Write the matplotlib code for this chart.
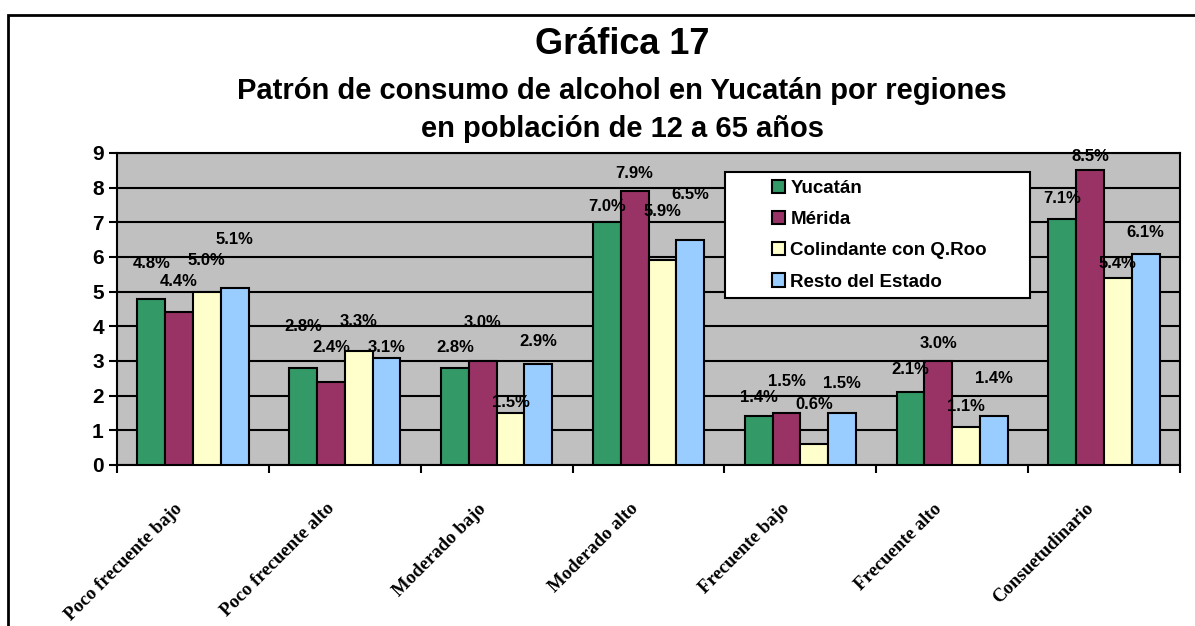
import numpy as np
import matplotlib
matplotlib.use("Agg")
import matplotlib.pyplot as plt
import matplotlib.transforms as mtransforms
from matplotlib.patches import Rectangle

# Patron de consumo de alcohol por regiones (porcentaje)
categories = ["Poco frecuente bajo", "Poco frecuente alto", "Moderado bajo",
              "Moderado alto", "Frecuente bajo", "Frecuente alto", "Consuetudinario"]
series_names = ["Yucatán", "Mérida", "Colindante con Q.Roo", "Resto del Estado"]
yucatan = [4.8, 2.8, 2.8, 7.0, 1.4, 2.1, 7.1]
merida = [4.4, 2.4, 3.0, 7.9, 1.5, 3.0, 8.5]
colindante = [5.0, 3.3, 1.5, 5.9, 0.6, 1.1, 5.4]
resto = [5.1, 3.1, 2.9, 6.5, 1.5, 1.4, 6.1]

# how far above each bar top the label sits (data units), as placed in the original
label_dy = [
    [1.0, 1.2, 0.6, 0.45, 0.55, 0.65, 0.6],
    [0.9, 1.0, 1.1, 0.5, 0.9, 0.5, 0.4],
    [0.9, 0.85, 0.3, 1.4, 1.15, 0.6, 0.4],
    [1.4, 0.3, 0.65, 1.3, 0.85, 1.1, 0.6],
]

colors = ["#339966", "#993366", "#FFFFCC", "#99CCFF"]

plt.rcParams['font.family'] = ['Liberation Sans', 'DejaVu Sans']
plt.rcParams['font.weight'] = 'bold'

W, H = 1195, 626
fig = plt.figure(figsize=(W / 100, H / 100), dpi=100)
ax = fig.add_axes([117 / W, 1 - 465 / H, (1180 - 117) / W, (465 - 153) / H])

# outer chart frame (runs off the right and bottom of the picture)
fig.patches.append(Rectangle((8 / W, -0.2), 1.2, 1 - 15 / H + 0.2, transform=fig.transFigure,
                             facecolor="none", edgecolor="black", linewidth=2))

x = np.arange(len(categories))
bw = 0.183
all_series = [yucatan, merida, colindante, resto]
for i, (vals, name, col) in enumerate(zip(all_series, series_names, colors)):
    pos = x + (i - 1.5) * bw
    ax.bar(pos, vals, bw, color=col, edgecolor="black", linewidth=1.5, label=name, zorder=3)
    for j, v in enumerate(vals):
        ax.text(pos[j], v + label_dy[i][j], f"{v:.1f}%", ha="center", va="center",
                fontsize=12, fontweight="bold", zorder=6)

ax.set_facecolor("#C0C0C0")
ax.set_xlim(-0.5, len(categories) - 0.5)
ax.set_ylim(0, 9)
ax.set_yticks(range(0, 10))
ax.yaxis.grid(True, color="black", linewidth=1.5, zorder=1)
ax.set_axisbelow(True)
ax.tick_params(axis="y", labelsize=15, width=1.5, length=6)
for lab in ax.get_yticklabels():
    lab.set_fontweight("bold")

# tick marks between categories, labels at centres
ax.set_xticks(np.arange(-0.5, len(categories)), labels=[])
ax.tick_params(axis="x", which="major", width=1.5, length=6)
ax.set_xticks(x, minor=True)
ax.set_xticklabels(categories, minor=True, rotation=45, ha="right", va="bottom",
                   rotation_mode="anchor", family="Liberation Serif",
                   fontsize=13.5, fontweight="bold")
ax.tick_params(axis="x", which="minor", length=0, pad=34)
shift = mtransforms.ScaledTranslation(-7 / 100, 0, fig.dpi_scale_trans)
for lab in ax.get_xticklabels(minor=True):
    lab.set_transform(lab.get_transform() + shift)

for s in ax.spines.values():
    s.set_linewidth(1.5)
    s.set_color("black")

# legend box
ax.add_patch(Rectangle((0.572, 0.535), 0.287, 0.404, transform=ax.transAxes,
                       facecolor="white", edgecolor="black", linewidth=1.5, zorder=7))
leg = ax.legend(loc="upper left", bbox_to_anchor=(0.6, 0.968), frameon=False,
                handlelength=0.7, handleheight=0.7, handletextpad=0.3,
                labelspacing=0.75, prop={"weight": "bold", "size": 13.5})
leg.set_zorder(8)

fig.text(622 / W, 1 - 45 / H, "Gráfica 17", ha="center", va="center", fontsize=26, fontweight="bold")
fig.text(622 / W, 1 - 91 / H, "Patrón de consumo de alcohol en Yucatán por regiones",
         ha="center", va="center", fontsize=21, fontweight="bold")
fig.text(622 / W, 1 - 129 / H, "en población de 12 a 65 años",
         ha="center", va="center", fontsize=21, fontweight="bold")

fig.savefig("out.png", dpi=100)
